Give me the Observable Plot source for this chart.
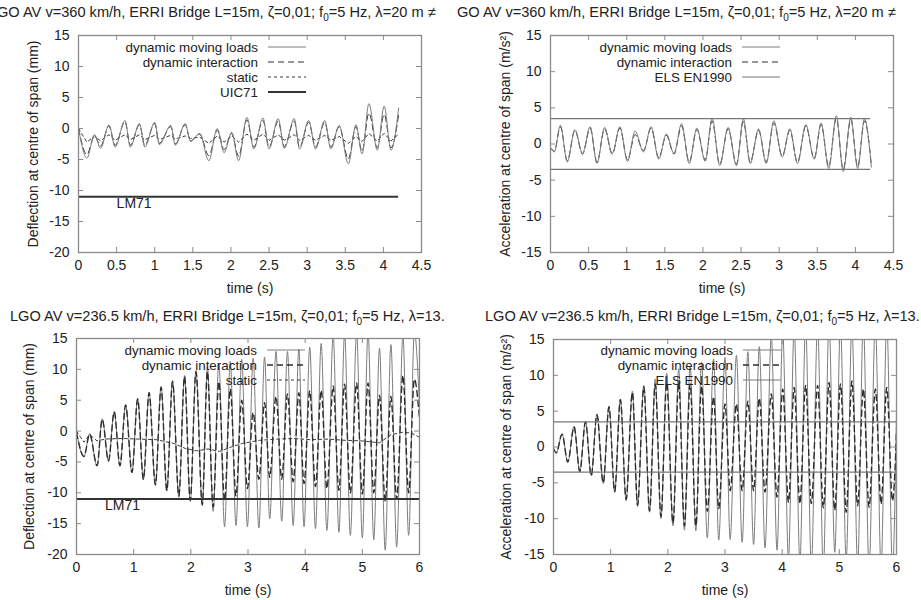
<!DOCTYPE html>
<html><head><meta charset="utf-8">
<script src="https://cdn.jsdelivr.net/npm/d3@7"></script>
<script src="https://cdn.jsdelivr.net/npm/@observablehq/plot@0.6"></script>
<style>
body{margin:0;background:#fff;}
#wrap{position:relative;width:921px;height:600px;overflow:hidden;font-family:"Liberation Sans",Arial,Helvetica,sans-serif;color:#222;}
.panel{position:absolute;width:460px;height:300px;}
.panel svg{position:absolute;left:0;top:0;}
.title{position:absolute;white-space:nowrap;font-size:14.6px;color:#222;}
.title sub{font-size:10px;}
</style></head><body><div id="wrap"></div>
<script>
// ---------- data ----------
// Top-left: deflection, v=360 km/h (extremes of the time histories)
const tlT = [0,0.11,0.21,0.29,0.40,0.48,0.61,0.68,0.80,0.87,1.00,1.06,1.21,1.27,1.40,1.47,1.59,1.71,1.82,1.91,2.01,2.10,2.21,2.30,2.42,2.50,2.62,2.70,2.83,2.90,3.02,3.11,3.23,3.31,3.42,3.54,3.64,3.72,3.81,3.92,4.01,4.10,4.20];
const tlMoving = [0,-4.8,-1.0,-3.2,0.6,-3.0,1.3,-3.0,0.8,-3.0,1.0,-2.6,0.5,-2.7,0.8,-2.1,-0.8,-5.2,0.0,-3.9,-0.6,-5.2,1.8,-3.3,1.7,-3.3,1.6,-3.2,1.6,-3.3,1.3,-3.3,1.3,-3.3,0.5,-5.7,0.6,-4.1,4.0,-3.5,3.6,-3.5,3.3];
const tlInteraction = [0,-4.2,-1.2,-2.8,0.4,-2.7,1.1,-2.7,0.6,-2.7,0.8,-2.4,0.3,-2.5,0.6,-2.0,-0.9,-4.4,-0.3,-3.4,-0.8,-4.5,1.4,-3.0,1.3,-3.0,1.2,-2.9,1.2,-3.0,1.0,-3.0,1.0,-3.0,0.3,-4.9,0.3,-3.7,2.5,-3.1,2.3,-3.1,2.2];
const tlStatic = [0,-2.2,-1.2,-2.0,-1.0,-1.9,-1.0,-1.8,-1.0,-1.8,-1.1,-1.8,-1.1,-1.7,-1.2,-1.6,-1.4,-2.4,-1.2,-2.2,-1.2,-2.2,-0.9,-1.9,-0.9,-1.9,-1.0,-1.9,-1.0,-1.9,-1.1,-1.9,-1.1,-1.9,-1.3,-2.4,-1.3,-2.1,-0.8,-2.0,-0.8,-2.0,-0.9];

// Top-right: acceleration, v=360 km/h
const trT = [0,0.05,0.13,0.22,0.32,0.42,0.52,0.61,0.71,0.81,0.91,1.01,1.11,1.22,1.32,1.42,1.52,1.62,1.72,1.82,1.92,2.03,2.12,2.22,2.33,2.44,2.53,2.62,2.73,2.83,2.93,3.04,3.14,3.24,3.35,3.46,3.55,3.65,3.75,3.84,3.94,4.03,4.12,4.21];
const trMoving = [-0.5,-1.1,2.6,-2.5,2.0,-1.3,2.4,-2.7,2.3,-1.3,2.4,-2.4,1.8,-1.1,2.4,-2.1,1.4,-1.3,2.8,-2.7,2.2,-2.4,3.6,-3.0,2.3,-3.0,3.5,-2.7,2.1,-2.7,3.2,-1.8,2.1,-2.7,2.7,-2.1,2.9,-3.4,3.9,-3.8,3.7,-3.4,3.5,-3.2];
const trInteraction = [-0.5,-1.0,2.4,-2.3,1.9,-1.4,2.2,-2.5,2.1,-1.4,2.2,-2.2,1.3,-0.9,2.2,-1.9,1.2,-1.4,2.5,-2.5,2.0,-2.2,3.2,-2.8,2.1,-2.8,3.1,-2.5,1.9,-2.5,2.9,-1.7,1.9,-2.5,2.5,-2.0,2.7,-3.1,3.6,-3.5,3.4,-3.1,3.2,-3.0];

// Bottom-left: deflection, v=236.5 km/h
const blT = [0,0.13,0.23,0.36,0.45,0.56,0.66,0.76,0.86,0.97,1.07,1.17,1.27,1.38,1.48,1.58,1.68,1.79,1.89,1.99,2.09,2.20,2.29,2.39,2.49,2.59,2.69,2.79,2.89,2.99,3.09,3.19,3.29,3.38,3.49,3.59,3.69,3.79,3.89,3.98,4.08,4.18,4.28,4.38,4.49,4.59,4.69,4.79,4.90,5.00,5.10,5.20,5.30,5.40,5.50,5.60,5.71,5.81,5.91,6.0];
const blMoving = [-0.2,-4.2,-0.4,-5.7,2.0,-4.9,3.2,-5.7,4.3,-6.8,5.3,-7.9,6.3,-8.8,7.2,-9.7,8.2,-10.7,9.0,-11.4,9.8,-12.1,10.4,-13.0,11.0,-15.5,11.3,-15.3,11.6,-15.5,11.8,-15.7,12.0,-14.2,12.9,-14.6,12.9,-15.3,13.3,-15.5,13.6,-15.8,14.2,-16.1,15.5,-16.4,15.8,-16.9,16.0,-17.3,16.0,-17.6,13.4,-19.3,14.0,-18.8,15.5,-16.9,16.0,4.0];
const blInteraction = [-0.2,-4.1,-0.5,-5.6,1.9,-4.8,3.1,-5.6,4.2,-6.7,5.2,-7.8,6.2,-8.7,7.1,-9.6,8.0,-10.5,8.8,-11.2,9.6,-11.9,9.6,-12.3,8.0,-11.3,6.8,-10.5,5.0,-9.3,3.0,-7.8,4.6,-7.5,5.6,-7.8,6.0,-8.2,6.2,-8.5,6.5,-9.0,6.6,-9.3,7.3,-9.6,7.6,-10.0,7.8,-10.2,7.8,-10.0,5.8,-11.3,5.6,-11.0,9.0,-10.0,8.4,2.0];
const blStaticT = [0,0.13,0.23,0.36,0.5,0.8,1.1,1.4,1.7,1.9,2.1,2.3,2.5,2.7,2.9,3.2,3.5,3.8,4.1,4.4,4.7,5.0,5.3,5.5,5.7,5.85,6.0];
const blStatic = [0,-1.8,-0.6,-1.6,-1.3,-1.2,-1.3,-1.4,-2.0,-2.8,-3.2,-2.9,-3.3,-2.6,-2.0,-1.5,-1.3,-1.2,-1.4,-1.3,-1.5,-1.6,-1.9,-0.6,-0.2,-0.3,-1.0];

// Bottom-right: acceleration, v=236.5 km/h
const brT = [0,0.05,0.15,0.25,0.36,0.46,0.56,0.66,0.76,0.87,0.97,1.07,1.17,1.27,1.38,1.47,1.58,1.68,1.78,1.88,1.98,2.09,2.19,2.29,2.39,2.49,2.59,2.69,2.80,2.89,3.00,3.09,3.20,3.30,3.40,3.50,3.60,3.70,3.81,3.91,4.01,4.11,4.21,4.31,4.41,4.51,4.62,4.72,4.82,4.92,5.02,5.12,5.22,5.32,5.42,5.52,5.63,5.73,5.83,5.93,6.0];
const brMoving = [-0.2,-0.8,1.8,-2.1,2.9,-3.5,3.6,-4.0,4.6,-5.1,5.7,-6.3,6.7,-7.5,7.8,-8.3,8.6,-9.1,9.5,-10.0,10.3,-11.0,10.9,-11.6,11.3,-11.7,11.8,-12.7,12.3,-13.0,12.5,-12.9,12.8,-13.3,13.3,-13.6,14.0,-14.1,15.5,-14.4,16.0,-15.5,16.5,-16.0,17.0,-16.5,17.0,-17.0,17.5,-14.7,17.0,-15.8,17.0,-16.5,17.5,-17.0,17.5,-17.0,17.5,-17.0,5.0];
const brInteraction = [-0.2,-0.8,1.8,-2.1,2.8,-3.4,3.5,-4.0,4.5,-5.0,5.6,-6.2,6.6,-7.3,7.6,-8.1,8.4,-8.9,8.8,-9.7,9.0,-10.6,9.0,-11.0,8.8,-11.0,8.5,-9.0,7.0,-8.6,6.0,-6.1,6.0,-6.1,6.4,-6.1,6.8,-6.3,7.4,-7.0,8.1,-7.7,8.3,-7.9,8.6,-7.9,8.6,-8.5,9.0,-8.8,8.8,-9.1,9.2,-8.2,8.1,-8.4,8.1,-7.9,8.3,-7.5,2.0];

// reference levels
const lm71 = -11;            // LM71 / UIC71 deflection (mm)
const elsLimit = [3.5, -3.5]; // ELS EN1990 acceleration limits (m/s2)
const endTop = 4.2, endBottom = 6;

// ticks
const xTicksTop = [0,0.5,1,1.5,2,2.5,3,3.5,4,4.5];
const xTicksBottom = [0,1,2,3,4,5,6];
const yTicksDefl = [-20,-15,-10,-5,0,5,10,15];
const yTicksAcc = [-15,-10,-5,0,5,10,15];

const titleTop = "GO AV v=360 km/h, ERRI Bridge L=15m, ζ=0,01; f<sub>0</sub>=5 Hz, λ=20 m ≠";
const titleBottom = "LGO AV v=236.5 km/h, ERRI Bridge L=15m, ζ=0,01; f<sub>0</sub>=5 Hz, λ=13.";
const labDefl = "Deflection at centre of span (mm)";
const labAcc = "Acceleration at centre of span (m/s²)";
const xLabel = "time (s)";

// ---------- drawing ----------
const W = 460, H = 300;
const FONT = '"Liberation Sans", Arial, Helvetica, sans-serif';
const C_MOV = "#7d7d7d", C_INT = "#2e2e2e", C_STA = "#3a3a3a", C_FRAME = "#8a8a8a";
const wrap = document.getElementById("wrap");
const rows = (T, V) => T.map((t, i) => ({t, v: V[i]}));

function panel(cfg) {
  const innerW = W - cfg.ml - cfg.mr, innerH = H - cfg.mt - cfg.mb;
  const div = document.createElement("div");
  div.className = "panel";
  div.style.left = cfg.left + "px"; div.style.top = cfg.top + "px";
  const marks = [];
  for (const s of cfg.series) {
    marks.push(Plot.line(s.data, {x: "t", y: "v", curve: s.curve || "monotone-x", stroke: s.stroke,
      strokeWidth: s.width || 1, strokeDasharray: s.dash, clip: true}));
  }
  for (const h of cfg.hlines) {
    marks.push(Plot.ruleY([h.y], {x1: 0, x2: h.x2, stroke: h.stroke, strokeWidth: h.width}));
  }
  if (cfg.lmLabel) marks.push(Plot.text([cfg.lmLabel], {x: 0.5, y: lm71, text: d => d, textAnchor: "start", dy: 7, fontSize: 14, fill: "#222"}));
  marks.push(
    Plot.frame({stroke: C_FRAME, strokeWidth: 1.3}),
    Plot.tickX(cfg.xTicks, {x: d => d, insetTop: innerH - 5, stroke: C_FRAME}),
    Plot.tickX(cfg.xTicks, {x: d => d, insetBottom: innerH - 5, stroke: C_FRAME}),
    Plot.tickY(cfg.yTicks, {y: d => d, insetRight: innerW - 5, stroke: C_FRAME}),
    Plot.tickY(cfg.yTicks, {y: d => d, insetLeft: innerW - 5, stroke: C_FRAME}),
    Plot.axisX({ticks: cfg.xTicks, tickSize: 0, tickPadding: 8, tickFormat: d => String(d),
      label: xLabel, labelAnchor: "center", labelOffset: 40, labelArrow: "none"}),
    Plot.axisY({ticks: cfg.yTicks, tickSize: 0, tickPadding: 9, tickFormat: d => String(d),
      label: cfg.yLabel, labelAnchor: "center", labelOffset: cfg.ylo, labelArrow: "none"})
  );
  const chart = Plot.plot({
    width: W, height: H, marginLeft: cfg.ml, marginRight: cfg.mr, marginTop: cfg.mt, marginBottom: cfg.mb,
    x: {domain: cfg.xDomain}, y: {domain: cfg.yDomain},
    style: {fontFamily: FONT, fontSize: "14px", color: "#222", background: "transparent", overflow: "visible"},
    marks
  });
  div.appendChild(chart);
  // legend overlay
  const ns = "http://www.w3.org/2000/svg";
  const svg = document.createElementNS(ns, "svg");
  svg.setAttribute("width", W); svg.setAttribute("height", H);
  svg.style.fontFamily = FONT; svg.style.fontSize = "13.4px";
  cfg.legend.forEach((L, i) => {
    const y = cfg.legY[i];
    const tx = document.createElementNS(ns, "text");
    tx.setAttribute("x", cfg.legX); tx.setAttribute("y", y);
    tx.setAttribute("text-anchor", "end"); tx.setAttribute("dominant-baseline", "central");
    tx.setAttribute("fill", "#222"); tx.textContent = L.label;
    svg.appendChild(tx);
    const ln = document.createElementNS(ns, "line");
    ln.setAttribute("x1", cfg.legX + 10); ln.setAttribute("x2", cfg.legX + 48);
    ln.setAttribute("y1", y); ln.setAttribute("y2", y);
    ln.setAttribute("stroke", L.stroke); ln.setAttribute("stroke-width", L.width || 1);
    if (L.dash) ln.setAttribute("stroke-dasharray", L.dash);
    svg.appendChild(ln);
  });
  div.appendChild(svg);
  const t = document.createElement("div");
  t.className = "title"; t.style.left = cfg.titleX + "px"; t.style.top = cfg.titleY + "px";
  t.innerHTML = cfg.title;
  div.appendChild(t);
  wrap.appendChild(div);
}

const DASH_INT = "6,4", DASH_STA = "3,3";

panel({left: 0, top: 0, ml: 78, mr: 39, mt: 35, mb: 48, ylo: 50,
  xDomain: [0, 4.5], yDomain: [-20, 15], xTicks: xTicksTop, yTicks: yTicksDefl, yLabel: labDefl,
  series: [
    {data: rows(tlT, tlStatic), stroke: C_STA, dash: DASH_STA, curve: "linear"},
    {data: rows(tlT, tlInteraction), stroke: C_INT, dash: DASH_INT},
    {data: rows(tlT, tlMoving), stroke: C_MOV}
  ],
  hlines: [{y: lm71, x2: endTop, stroke: "#333", width: 2}], lmLabel: "LM71",
  legend: [{label: "dynamic moving loads", stroke: C_MOV}, {label: "dynamic interaction", stroke: C_INT, dash: DASH_INT},
    {label: "static", stroke: C_STA, dash: DASH_STA}, {label: "UIC71", stroke: "#333", width: 2}],
  legX: 258, legY: [47, 62, 77, 92], title: titleTop, titleX: -3, titleY: 4});

panel({left: 460, top: 0, ml: 90, mr: 27, mt: 35, mb: 48, ylo: 50,
  xDomain: [0, 4.5], yDomain: [-15, 15], xTicks: xTicksTop, yTicks: yTicksAcc, yLabel: labAcc,
  series: [
    {data: rows(trT, trInteraction), stroke: C_INT, dash: DASH_INT},
    {data: rows(trT, trMoving), stroke: C_MOV}
  ],
  hlines: elsLimit.map(y => ({y, x2: endTop, stroke: "#777", width: 1.2})),
  legend: [{label: "dynamic moving loads", stroke: C_MOV}, {label: "dynamic interaction", stroke: C_INT, dash: DASH_INT},
    {label: "ELS EN1990", stroke: "#777"}],
  legX: 272, legY: [47, 62, 77], title: titleTop, titleX: -3, titleY: 4});

panel({left: 0, top: 300, ml: 76, mr: 41, mt: 38, mb: 46, ylo: 52,
  xDomain: [0, 6], yDomain: [-20, 15], xTicks: xTicksBottom, yTicks: yTicksDefl, yLabel: labDefl,
  series: [
    {data: rows(blStaticT, blStatic), stroke: C_STA, dash: DASH_STA, curve: "linear"},
    {data: rows(blT, blMoving), stroke: C_MOV},
    {data: rows(blT, blInteraction), stroke: C_INT, dash: DASH_INT, width: 1.4}
  ],
  hlines: [{y: lm71, x2: endBottom, stroke: "#333", width: 2}], lmLabel: "LM71",
  legend: [{label: "dynamic moving loads", stroke: C_MOV}, {label: "dynamic interaction", stroke: C_INT, dash: DASH_INT, width: 1.4},
    {label: "static", stroke: C_STA, dash: DASH_STA}],
  legX: 257, legY: [50, 65, 80], title: titleBottom, titleX: 10, titleY: 8});

panel({left: 460, top: 300, ml: 93, mr: 24, mt: 39, mb: 46, ylo: 52,
  xDomain: [0, 6], yDomain: [-15, 15], xTicks: xTicksBottom, yTicks: yTicksAcc, yLabel: labAcc,
  series: [
    {data: rows(brT, brMoving), stroke: C_MOV},
    {data: rows(brT, brInteraction), stroke: C_INT, dash: DASH_INT, width: 1.4}
  ],
  hlines: elsLimit.map(y => ({y, x2: endBottom, stroke: "#777", width: 1.2})),
  legend: [{label: "dynamic moving loads", stroke: C_MOV}, {label: "dynamic interaction", stroke: C_INT, dash: DASH_INT, width: 1.4},
    {label: "ELS EN1990", stroke: "#777"}],
  legX: 273, legY: [50, 65, 80], title: titleBottom, titleX: 25, titleY: 8});
</script></body></html>
